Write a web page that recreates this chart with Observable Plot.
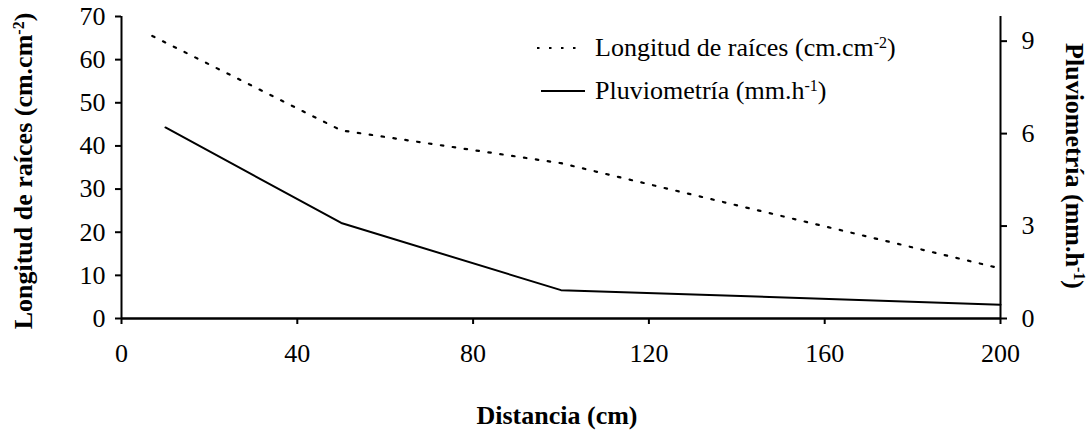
<!DOCTYPE html>
<html><head><meta charset="utf-8">
<script src="https://cdn.jsdelivr.net/npm/d3@7"></script>
<script src="https://cdn.jsdelivr.net/npm/@observablehq/plot@0.6"></script>
<style>body{margin:0;background:#fff;}</style>
</head><body><div id="chart"></div>
<script>
// Data
const distanciaRaices = [7, 50, 100, 200];
const longitudRaices = [65.5, 43.6, 36, 11.6];
const distanciaPluv = [10, 50, 100, 200];
const pluviometria = [6.2, 3.1, 0.92, 0.45];
const xTicks = [0, 40, 80, 120, 160, 200];
const leftTicks = [0, 10, 20, 30, 40, 50, 60, 70];
const rightTicks = [0, 3, 6, 9];
const leftMax = 70, rightMax = 9.8;
const toLeft = v => v * leftMax / rightMax;

const raicesData = distanciaRaices.map((d, i) => ({d, v: longitudRaices[i]}));
const pluvData = distanciaPluv.map((d, i) => ({d, v: toLeft(pluviometria[i])}));

const FONT = "'Liberation Serif', 'Times New Roman', serif";
const FS = 26;

const plot = Plot.plot({
  width: 1091, height: 432,
  marginLeft: 121, marginRight: 91, marginTop: 16, marginBottom: 114,
  style: {fontFamily: FONT, fontSize: FS + "px", color: "#000", background: "#fff", overflow: "visible"},
  x: {domain: [0, 200]},
  y: {domain: [0, leftMax]},
  marks: [
    Plot.ruleX([0, 200], {stroke: "#000", strokeWidth: 2}),
    Plot.ruleY([0], {stroke: "#000", strokeWidth: 2.5}),
    Plot.axisX({ticks: xTicks, tickSize: 6, tickPadding: 19, label: null, strokeWidth: 2, fontSize: FS}),
    Plot.axisY({anchor: "left", ticks: leftTicks, tickSize: 6, tickPadding: 10, label: null, strokeWidth: 2, fontSize: FS}),
    Plot.axisY({anchor: "right", ticks: rightTicks.map(toLeft), tickFormat: d => Math.round(d * rightMax / leftMax),
                tickSize: 6, tickPadding: 15, label: null, strokeWidth: 2, fontSize: FS}),
    Plot.line(raicesData, {x: "d", y: "v", stroke: "#000", strokeWidth: 2.2, strokeDasharray: "2.5,9.5"}),
    Plot.line(pluvData, {x: "d", y: "v", stroke: "#000", strokeWidth: 2})
  ]
});
document.getElementById("chart").appendChild(plot);

const svg = d3.select(plot);
const g = svg.append("g").attr("font-family", FONT).attr("fill", "#000");

function richText(sel, main, sup, tail, size) {
  sel.append("tspan").text(main);
  sel.append("tspan").attr("baseline-shift", "super").attr("font-size", Math.round(size * 0.62)).text(sup);
  sel.append("tspan").text(tail);
}

// Axis titles
const lt = g.append("text").attr("transform", "translate(32,171) rotate(-90)")
  .attr("text-anchor", "middle").attr("font-weight", "bold").attr("font-size", FS);
richText(lt, "Longitud de raíces (cm.cm", "-2", ")", FS);

const rt = g.append("text").attr("transform", "translate(1066,166) rotate(90)")
  .attr("text-anchor", "middle").attr("font-weight", "bold").attr("font-size", FS);
richText(rt, "Pluviometría (mm.h", "-1", ")", FS);

g.append("text").attr("x", 557).attr("y", 424).attr("text-anchor", "middle")
  .attr("font-weight", "bold").attr("font-size", FS).text("Distancia (cm)");

// Legend
const lg = g.append("g");
lg.append("line").attr("x1", 537).attr("x2", 585).attr("y1", 48).attr("y2", 48)
  .attr("stroke", "#000").attr("stroke-width", 2.2).attr("stroke-dasharray", "2.5,9.5");
const l1 = lg.append("text").attr("x", 595).attr("y", 56).attr("font-size", FS).attr("text-anchor", "start");
richText(l1, "Longitud de raíces (cm.cm", "-2", ")", FS);
lg.append("line").attr("x1", 541).attr("x2", 585).attr("y1", 91).attr("y2", 91)
  .attr("stroke", "#000").attr("stroke-width", 2);
const l2 = lg.append("text").attr("x", 595).attr("y", 99).attr("font-size", FS).attr("text-anchor", "start");
richText(l2, "Pluviometría (mm.h", "-1", ")", FS);
</script>
</body></html>
